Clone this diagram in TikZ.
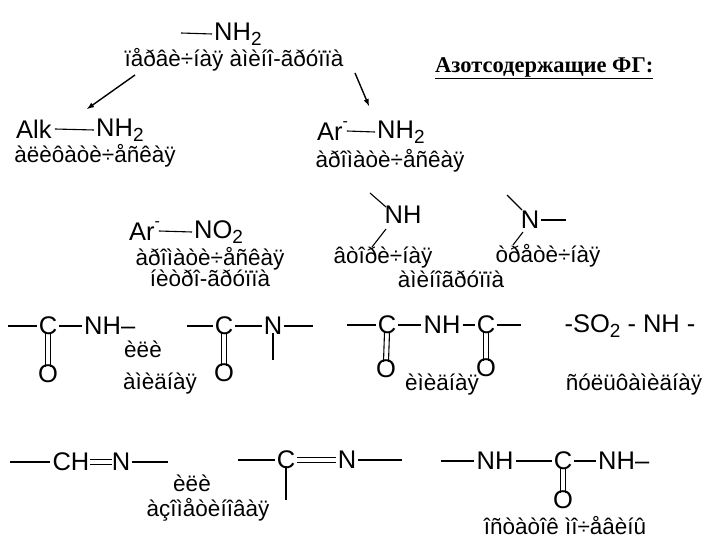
\documentclass[tikz,border=0pt]{standalone}
\usepackage{fontspec}
\setmainfont{Liberation Sans}
\newfontfamily\serifb{Liberation Serif}
\newcommand{\sbs}[1]{\raisebox{-0.35ex}{\fontsize{19}{19}\selectfont #1}}
\newcommand{\arm}{\rlap{\raisebox{1.0ex}{\fontsize{16}{16}\selectfont -}}}
\begin{document}
\begin{tikzpicture}[x=1pt,y=-1pt,
  atm/.style={inner sep=0pt,font=\fontsize{25.5}{25.5}\selectfont},
  lbl/.style={inner sep=0pt,font=\fontsize{22.5}{22.5}\selectfont},
  bond/.style={line width=1.1pt},
  arr/.style={line width=1.4pt,-latex}]
\useasboundingbox (0,0) rectangle (720,540);
% top
\coordinate (t0) at (181,33);
\node[atm,anchor=west] (tnh) at (214,34) {NH\sbs{2}};
\draw[bond] (t0) -- ([xshift=-2pt]tnh.west);
\node[lbl] (tl) at (234,60) {ïåðâè÷íàÿ àìèíî-ãðóïïà};
\node[inner sep=0pt,font=\serifb\bfseries\fontsize{22.5}{22.5}\selectfont,anchor=west] (title) at (435,68) {\underline{Азотсодержащие ФГ:}};
\coordinate (a1s) at (135,75); \coordinate (a1e) at (87,109);
\coordinate (a2s) at (355,73); \coordinate (a2e) at (369,106);
\draw[arr] (a1s) -- (a1e);
\draw[arr] (a2s) -- (a2e);
% alk
\node[atm,anchor=west] (alk) at (16,129) {Alk};
\node[atm,anchor=west] (anh) at (96,130) {NH\sbs{2}};
\draw[bond] ([xshift=3pt]alk.east) -- ([xshift=-2pt]anh.west);
\node[lbl] (al) at (95,156) {àëèôàòè÷åñêàÿ};
% ar
\node[atm,anchor=west] (ar) at (317,131) {Ar\arm};
\node[atm,anchor=west] (arnh) at (377,132) {NH\sbs{2}};
\draw[bond] ([xshift=4pt]ar.east) -- ([xshift=-2pt]arnh.west);
\node[lbl] (arl) at (390,161) {àðîìàòè÷åñêàÿ};
% nitro
\node[atm,anchor=west] (ar2) at (129,231) {Ar\arm};
\node[atm,anchor=west] (no2) at (194,232) {NO\sbs{2}};
\draw[bond] ([xshift=4pt]ar2.east) -- ([xshift=-2pt]no2.west);
\node[lbl] (nl1) at (210,259) {àðîìàòè÷åñêàÿ};
\node[lbl] (nl2) at (210,278) {íèòðî-ãðóïïà};
% secondary
\node[atm] (nh2) at (403,215) {NH};
\draw[bond] (386,207) -- (370,193);
\draw[bond] (386,229) -- (372,247);
\node[atm] (n3) at (530,220) {N};
\draw[bond] (522,210) -- (507,195);
\draw[bond] (541,220) -- (566,220);
\draw[bond] (523,232) -- (513,245);
\node[lbl] (l2) at (383,258) {âòîðè÷íàÿ};
\node[lbl] (l3) at (548,256) {òðåòè÷íàÿ};
\node[lbl] (l4) at (451,279) {àìèíîãðóïïà};
% row 3 amide
\node[atm] (c1) at (48,326) {C};
\node[atm,anchor=west] (nh1) at (84,326) {NH–};
\draw[bond] (8,326) -- ([xshift=-2pt]c1.west);
\draw[bond] ([xshift=2pt]c1.east) -- ([xshift=-2pt]nh1.west);
\node[atm] (o1) at (48,374) {O};
\draw[bond] ([xshift=-2.5pt,yshift=2pt]c1.south) -- ([xshift=-2.5pt,yshift=-2pt]o1.north);
\draw[bond] ([xshift=2.5pt,yshift=2pt]c1.south) -- ([xshift=2.5pt,yshift=-2pt]o1.north);
\node[lbl] (or1) at (143,349) {èëè};
\node[atm] (c2) at (224,326) {C};
\node[atm] (n2) at (273,326) {N};
\draw[bond] (187,326) -- ([xshift=-2pt]c2.west);
\draw[bond] ([xshift=2pt]c2.east) -- ([xshift=-2pt]n2.west);
\draw[bond] ([xshift=2pt]n2.east) -- (313,326);
\draw[bond] ([yshift=2pt]n2.south) -- (273,360);
\node[atm] (o2) at (224,373) {O};
\draw[bond] ([xshift=-2.5pt,yshift=2pt]c2.south) -- ([xshift=-2.5pt,yshift=-2pt]o2.north);
\draw[bond] ([xshift=2.5pt,yshift=2pt]c2.south) -- ([xshift=2.5pt,yshift=-2pt]o2.north);
\node[lbl] (aml) at (160,384) {àìèäíàÿ};
% imide
\node[atm] (c3) at (387,325) {C};
\node[atm] (nh3) at (442,325) {NH};
\node[atm] (c4) at (486,325) {C};
\draw[bond] (347,325) -- ([xshift=-2pt]c3.west);
\draw[bond] ([xshift=2pt]c3.east) -- ([xshift=-2pt]nh3.west);
\draw[bond] ([xshift=2pt]nh3.east) -- ([xshift=-2pt]c4.west);
\draw[bond] ([xshift=2pt]c4.east) -- (521,325);
\node[atm] (o3) at (386,369) {O};
\node[atm] (o4) at (486,368) {O};
\draw[bond] ([xshift=-2.5pt,yshift=2pt]c3.south) -- ([xshift=-2.5pt,yshift=-2pt]o3.north);
\draw[bond] ([xshift=2.5pt,yshift=2pt]c3.south) -- ([xshift=2.5pt,yshift=-2pt]o3.north);
\draw[bond] ([xshift=-2.5pt,yshift=2pt]c4.south) -- ([xshift=-2.5pt,yshift=-2pt]o4.north);
\draw[bond] ([xshift=2.5pt,yshift=2pt]c4.south) -- ([xshift=2.5pt,yshift=-2pt]o4.north);
\node[lbl] (iml) at (442,385) {èìèäíàÿ};
% sulfamide
\node[atm] (so) at (630,326) {-SO\sbs{2} - NH -};
\node[lbl] (sl) at (634,385) {ñóëüôàìèäíàÿ};
% row 4
\node[atm] (ch) at (71,462) {CH};
\node[atm] (n5) at (121,462) {N};
\draw[bond] (10,462) -- ([xshift=-2pt]ch.west);
\draw[bond] ([yshift=-2.5pt]ch.east) -- ([yshift=-2.5pt]n5.west);
\draw[bond] ([yshift=2.5pt]ch.east) -- ([yshift=2.5pt]n5.west);
\draw[bond] ([xshift=2pt]n5.east) -- (168,462);
\node[lbl] (or2) at (192,483) {èëè};
\node[atm] (c5) at (286,460) {C};
\node[atm] (n6) at (347,460) {N};
\draw[bond] (238,460) -- ([xshift=-2pt]c5.west);
\draw[bond] ([xshift=2pt,yshift=-2.5pt]c5.east) -- ([xshift=-2pt,yshift=-2.5pt]n6.west);
\draw[bond] ([xshift=2pt,yshift=2.5pt]c5.east) -- ([xshift=-2pt,yshift=2.5pt]n6.west);
\draw[bond] ([xshift=2pt]n6.east) -- (402,460);
\draw[bond] ([yshift=3pt]c5.south) -- (286,500);
\node[lbl] (azl) at (208,510) {àçîìåòèíîâàÿ};
% urea
\node[atm] (nh7) at (495,461) {NH};
\node[atm] (c7) at (563,461) {C};
\node[atm,anchor=west] (nh8) at (598,461) {NH–};
\draw[bond] (441,461) -- ([xshift=-2pt]nh7.west);
\draw[bond] ([xshift=2pt]nh7.east) -- ([xshift=-2pt]c7.west);
\draw[bond] ([xshift=2pt]c7.east) -- ([xshift=-2pt]nh8.west);
\node[atm] (o7) at (563,500) {O};
\draw[bond] ([xshift=-2.5pt,yshift=2pt]c7.south) -- ([xshift=-2.5pt,yshift=-2pt]o7.north);
\draw[bond] ([xshift=2.5pt,yshift=2pt]c7.south) -- ([xshift=2.5pt,yshift=-2pt]o7.north);
\node[lbl] (ul) at (565,526) {îñòàòîê ìî÷åâèíû};
\end{tikzpicture}
\end{document}
